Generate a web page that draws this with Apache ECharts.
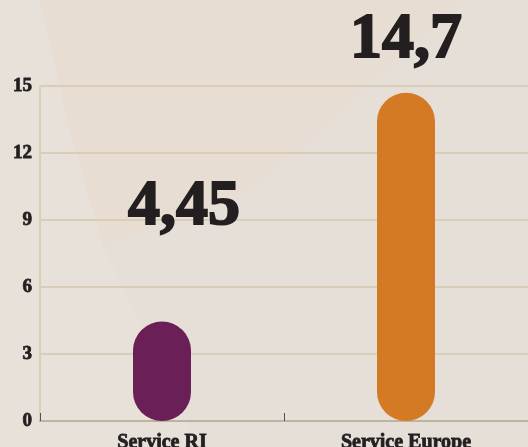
<!DOCTYPE html>
<html>
<head>
<meta charset="utf-8">
<script src="https://cdn.jsdelivr.net/npm/echarts@6/dist/echarts.min.js"></script>
<style>
  html, body { margin: 0; padding: 0; background: #e5dfd8; }
  #chart { width: 528px; height: 447px; }
</style>
</head>
<body>
<div id="chart"></div>
<script>
// data
var categories = ['Service RI', 'Service Europe'];
var values = [4.45, 14.7];
var barColors = ['#6b1f57', '#d47a24'];
var labelOffsets = [[22, -77], [0, -15]];
var yTicks = { min: 0, max: 15, interval: 3 };

var myChart = echarts.init(document.getElementById('chart'));

var seriesData = values.map(function (v, i) {
    return {
        value: v,
        itemStyle: { color: barColors[i] },
        label: { offset: labelOffsets[i] }
    };
});

var option = {
    backgroundColor: '#e5dfd8',
    animation: false,
    // faint background shapes
    graphic: [
        {
            type: 'polygon', z: -10, silent: true,
            shape: { points: [[0, 0], [40, 0], [70, 130], [105, 250], [200, 447], [0, 447]] },
            style: { fill: '#e8e1d9' }
        },
        {
            type: 'polygon', z: -10, silent: true,
            shape: { points: [[40, 0], [462, 0], [260, 184], [103, 247], [70, 130]] },
            style: { fill: '#e8ddd2' }
        }
    ],
    grid: { left: 40, right: 0, top: 86, bottom: 26, containLabel: false, outerBoundsMode: 'none' },
    xAxis: {
        type: 'category',
        data: categories,
        axisLine: { lineStyle: { color: '#bdb4a0', width: 2 } },
        axisTick: { show: true, inside: true, length: 8, lineStyle: { color: '#55504a', width: 1 } },
        axisLabel: {
            color: '#231f20',
            fontFamily: 'Liberation Serif',
            fontWeight: 'bold',
            fontSize: 20,
            textBorderColor: '#231f20',
            textBorderWidth: 0.8,
            margin: 12
        }
    },
    yAxis: {
        type: 'value',
        min: yTicks.min,
        max: yTicks.max,
        interval: yTicks.interval,
        axisLine: { show: true, lineStyle: { color: '#dccfb8', width: 2 } },
        axisTick: { show: false },
        splitLine: { lineStyle: { color: '#d9cdb7', width: 2 } },
        axisLabel: {
            color: '#231f20',
            fontFamily: 'Liberation Serif',
            fontWeight: 'bold',
            fontSize: 19,
            textBorderColor: '#231f20',
            textBorderWidth: 0.8,
            margin: 8
        }
    },
    series: [
        {
            type: 'bar',
            data: seriesData,
            barWidth: 58,
            itemStyle: { borderRadius: 29 },
            label: {
                show: true,
                position: 'top',
                color: '#231f20',
                fontFamily: 'Liberation Serif',
                fontWeight: 'bold',
                fontSize: 64,
                textBorderColor: '#231f20',
                textBorderWidth: 2,
                formatter: function (p) {
                    return String(p.value).replace('.', ',');
                }
            }
        }
    ]
};

myChart.setOption(option);
</script>
</body>
</html>
